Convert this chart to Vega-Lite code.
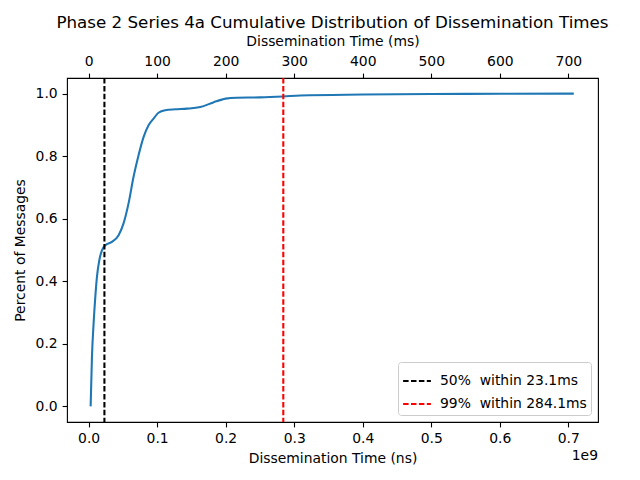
{
  "$schema": "https://vega.github.io/schema/vega-lite/v6.json",
  "width": 531,
  "height": 344,
  "autosize": {"type": "none"},
  "padding": {"left": 67, "top": 78, "right": 42, "bottom": 58},
  "title": {
    "text": "Phase 2 Series 4a Cumulative Distribution of Dissemination Times",
    "fontSize": 16.7,
    "fontWeight": "normal",
    "frame": "group",
    "anchor": "middle",
    "offset": 3,
    "color": "black"
  },
  "config": {
    "font": "DejaVu Sans",
    "view": {"stroke": "black", "strokeWidth": 1.1},
    "axis": {
      "grid": false,
      "domain": false,
      "tickColor": "black",
      "tickSize": 4.9,
      "tickWidth": 1.1,
      "labelPadding": 4.9,
      "labelFontSize": 13.9,
      "labelColor": "black",
      "titleFontSize": 13.9,
      "titleFontWeight": "normal",
      "titleColor": "black",
      "titlePadding": 5.6
    },
    "legend": {
      "labelFontSize": 13.9,
      "labelColor": "black"
    }
  },
  "resolve": {"axis": {"x": "independent"}},
  "layer": [
    {
      "data": {
        "values": [
          {"ms": 3, "p": 0.0},
          {"ms": 4.9, "p": 0.158},
          {"ms": 7.3, "p": 0.265},
          {"ms": 9.8, "p": 0.35},
          {"ms": 12.2, "p": 0.414},
          {"ms": 15.6, "p": 0.467},
          {"ms": 19.5, "p": 0.499},
          {"ms": 24.4, "p": 0.515},
          {"ms": 34.1, "p": 0.526},
          {"ms": 43.8, "p": 0.547},
          {"ms": 51, "p": 0.585},
          {"ms": 58.3, "p": 0.649},
          {"ms": 65.6, "p": 0.734},
          {"ms": 72.9, "p": 0.803},
          {"ms": 80.2, "p": 0.861},
          {"ms": 87.5, "p": 0.899},
          {"ms": 94.8, "p": 0.92},
          {"ms": 102, "p": 0.939},
          {"ms": 111.9, "p": 0.947},
          {"ms": 126.4, "p": 0.95},
          {"ms": 143.5, "p": 0.952},
          {"ms": 163, "p": 0.957},
          {"ms": 182, "p": 0.972},
          {"ms": 200, "p": 0.984},
          {"ms": 216, "p": 0.987},
          {"ms": 250, "p": 0.988},
          {"ms": 284, "p": 0.991},
          {"ms": 309, "p": 0.994},
          {"ms": 400, "p": 0.997},
          {"ms": 500, "p": 0.999},
          {"ms": 600, "p": 0.9995},
          {"ms": 708, "p": 1.0}
        ]
      },
      "mark": {"type": "line", "color": "#1f77b4", "strokeWidth": 2.08, "interpolate": "monotone"},
      "encoding": {
        "x": {
          "field": "ms",
          "type": "quantitative",
          "scale": {"domain": [-31.5, 743.3], "nice": false, "zero": false},
          "axis": {"orient": "top", "title": "Dissemination Time (ms)", "values": [0, 100, 200, 300, 400, 500, 600, 700]}
        },
        "y": {
          "field": "p",
          "type": "quantitative",
          "scale": {"domain": [-0.05, 1.05], "nice": false, "zero": false},
          "axis": {"title": "Percent of Messages", "values": [0, 0.2, 0.4, 0.6, 0.8, 1.0], "format": ".1f", "titlePadding": 8}
        }
      }
    },
    {
      "data": {
        "values": [
          {"ms": 23.1, "label": "50%\u00a0 within 23.1ms"},
          {"ms": 284.1, "label": "99%\u00a0 within 284.1ms"}
        ]
      },
      "mark": {"type": "rule", "strokeWidth": 2.08, "strokeDash": [5.5, 2.4]},
      "encoding": {
        "x": {
          "field": "ms",
          "type": "quantitative",
          "axis": {
            "orient": "bottom",
            "title": "Dissemination Time (ns)",
            "values": [0, 100, 200, 300, 400, 500, 600, 700],
            "labelExpr": "format(datum.value / 1000, '.1f')"
          }
        },
        "color": {
          "field": "label",
          "type": "nominal",
          "scale": {"domain": ["50%\u00a0 within 23.1ms", "99%\u00a0 within 284.1ms"], "range": ["black", "red"]},
          "legend": {
            "title": null,
            "orient": "bottom-right",
            "offset": 7,
            "symbolType": "stroke",
            "symbolSize": 773,
            "symbolStrokeWidth": 2,
            "symbolDash": [5.5, 2.4],
            "fillColor": "white",
            "strokeColor": "#cccccc",
            "cornerRadius": 3,
            "padding": 4,
            "rowPadding": 1,
            "labelOffset": 8
          }
        }
      }
    },
    {
      "data": {"values": [{"ms": 743.3, "p": -0.05, "text": "1e9"}]},
      "mark": {"type": "text", "align": "right", "baseline": "middle", "dy": 34, "fontSize": 13.9, "color": "black"},
      "encoding": {
        "x": {"field": "ms", "type": "quantitative", "axis": null},
        "y": {"field": "p", "type": "quantitative"},
        "text": {"field": "text"}
      }
    }
  ]
}
